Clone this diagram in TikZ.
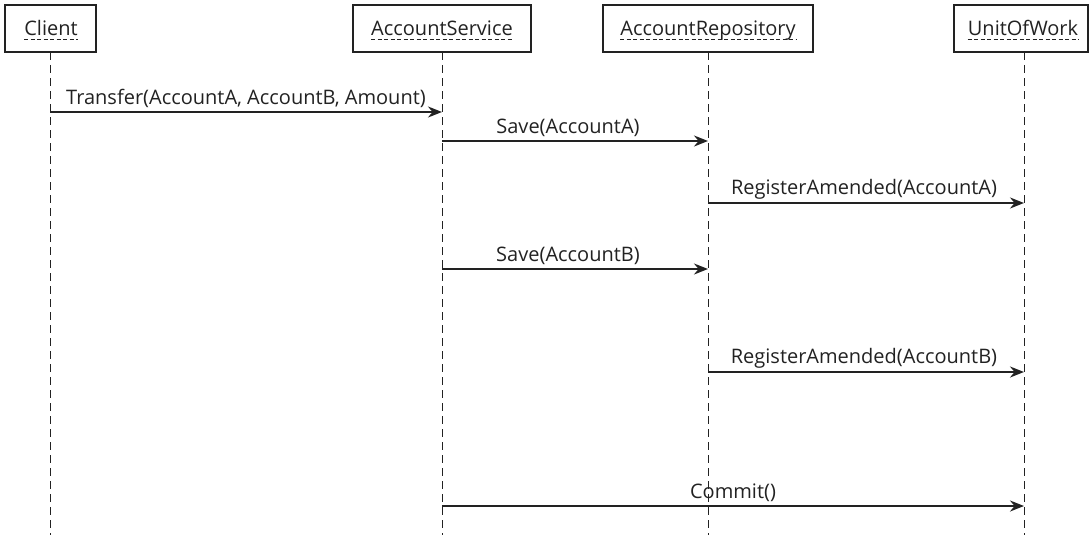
\documentclass[tikz,border=0pt]{standalone}
\usepackage{fontspec}
\setmainfont{Open Sans}
\usetikzlibrary{arrows.meta}
\definecolor{ink}{HTML}{222222}
\begin{document}
\begin{tikzpicture}[x=1pt,y=-1pt,
  every node/.style={font=\fontsize{20}{23}\selectfont, text=ink},
  objbox/.style={draw=ink, line width=1.3pt},
  lifeline/.style={draw=ink, line width=0.9pt, dash pattern=on 8pt off 5pt},
  msg/.style={draw=ink, line width=1.7pt, -{Stealth[length=14pt,width=11pt]}},
  ulin/.style={draw=ink, line width=0.8pt, dash pattern=on 4pt off 2.5pt},
  lbl/.style={inner sep=0pt, anchor=base}
]
\useasboundingbox (0,0) rectangle (1089,535);
% boxes
\draw[objbox] (5,5) rectangle (96,52);
\draw[objbox] (353,5) rectangle (531,52);
\draw[objbox] (603,5) rectangle (813,52);
\draw[objbox] (954,5) rectangle (1088,52);
% names
\node[lbl] (nC) at (51,36) {Client};
\node[lbl] (nS) at (442,36) {AccountService};
\node[lbl] (nR) at (708,36) {AccountRepository};
\node[lbl] (nU) at (1023,36) {UnitOfWork};
\foreach \n in {nC,nS,nR,nU}{
  \draw[ulin] ([yshift=-3.5pt]\n.base west) -- ([yshift=-3.5pt]\n.base east);
}
% lifelines
\coordinate (cT) at (50,52);  \coordinate (cB) at (50,535);
\coordinate (sT) at (442,52); \coordinate (sB) at (442,535);
\coordinate (rT) at (708,52); \coordinate (rB) at (708,535);
\coordinate (uT) at (1024,52); \coordinate (uB) at (1024,535);
\draw[lifeline] (cT) -- (cB);
\draw[lifeline] (sT) -- (sB);
\draw[lifeline] (rT) -- (rB);
\draw[lifeline] (uT) -- (uB);
% messages
\coordinate (m1a) at (50,112);  \coordinate (m1b) at (442,112);
\coordinate (m2a) at (442,141); \coordinate (m2b) at (708,141);
\coordinate (m3a) at (708,203); \coordinate (m3b) at (1024,203);
\coordinate (m4a) at (442,269); \coordinate (m4b) at (708,269);
\coordinate (m5a) at (708,372); \coordinate (m5b) at (1024,372);
\coordinate (m6a) at (442,506); \coordinate (m6b) at (1024,506);
\draw[msg] (m1a) -- node[lbl, yshift=7.5pt] (l1) {Transfer(AccountA, AccountB, Amount)} (m1b);
\draw[msg] (m2a) -- node[lbl, yshift=7.5pt, xshift=-7pt] (l2) {Save(AccountA)} (m2b);
\draw[msg] (m3a) -- node[lbl, yshift=8.5pt, xshift=-2pt] (l3) {RegisterAmended(AccountA)} (m3b);
\draw[msg] (m4a) -- node[lbl, yshift=8pt, xshift=-7pt] (l4) {Save(AccountB)} (m4b);
\draw[msg] (m5a) -- node[lbl, yshift=8.5pt, xshift=-2pt] (l5) {RegisterAmended(AccountB)} (m5b);
\draw[msg] (m6a) -- node[lbl, yshift=8pt] (l6) {Commit()} (m6b);
\end{tikzpicture}
\end{document}
